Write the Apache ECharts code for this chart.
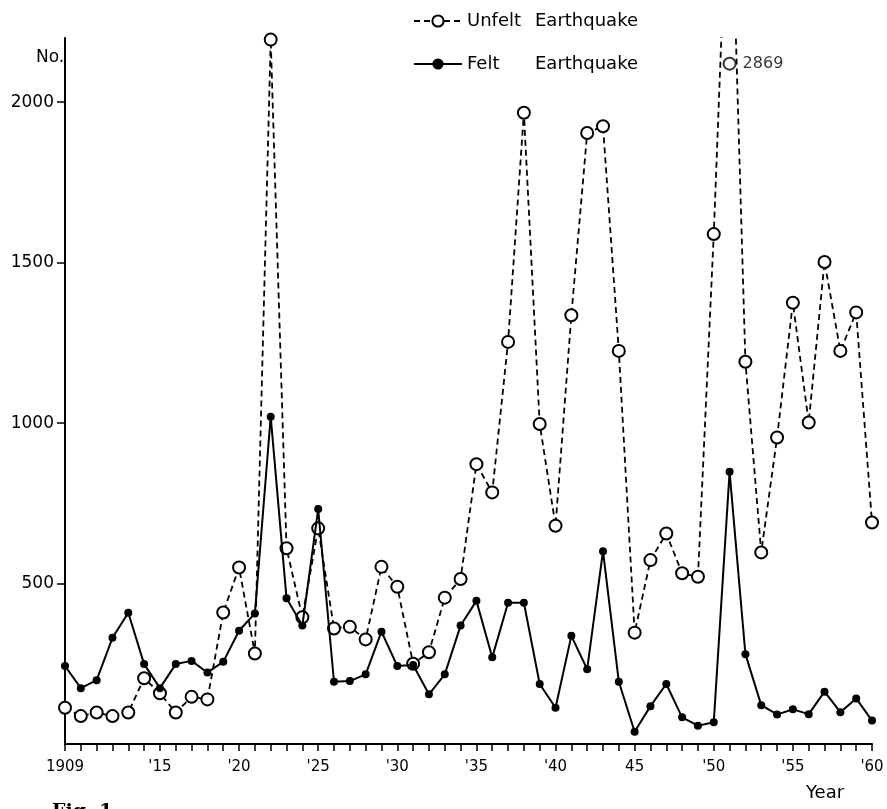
<!DOCTYPE html>
<html><head><meta charset="utf-8">
<script src="https://cdn.jsdelivr.net/npm/echarts@6/dist/echarts.min.js"></script>
<style>html,body{margin:0;padding:0;background:#fff}#c{width:887px;height:809px}</style>
</head><body><div id="c"></div>
<script>
const years = [1909,1910,1911,1912,1913,1914,1915,1916,1917,1918,1919,1920,1921,1922,1923,1924,1925,1926,1927,1928,1929,1930,1931,1932,1933,1934,1935,1936,1937,1938,1939,1940,1941,1942,1943,1944,1945,1946,1947,1948,1949,1950,1951,1952,1953,1954,1955,1956,1957,1958,1959,1960];
const unfelt = [113,87,98,87,98,205,158,98,147,139,410,550,282,2195,610,395,672,360,365,326,552,490,250,286,456,514,872,784,1253,1967,997,680,1336,1904,1925,1225,347,573,656,532,521,1589,2869,1191,597,955,1375,1002,1502,1225,1345,690];
const felt = [243,174,199,331,409,249,174,249,259,223,256,353,407,1020,454,369,732,194,196,217,350,243,246,155,217,369,446,270,440,440,187,113,337,233,601,194,38,118,187,83,57,68,848,280,121,92,108,93,163,99,142,73];
const xTickYears = [1909,1915,1920,1925,1930,1935,1940,1945,1950,1955,1960];
const xTickLabels = ['1909',"'15","'20","'25","'30","'35","'40",'45',"'50","'55","'60"];
const yTickValues = [500,1000,1500,2000];
const yTickLabels = ['500','1000','1500','2000'];
const offScaleYear = 1951;
const offScaleLabel = '2869';
const offScaleShownAt = 2120;
const seriesNames = ['Unfelt Earthquake','Felt Earthquake'];

const FONT = 'DejaVu Sans';
const chart = echarts.init(document.getElementById('c'), null, {renderer:'canvas'});
chart.setOption({
  animation:false,
  backgroundColor:'#fff',
  grid:{left:65,right:15,top:38,bottom:65},
  legend:{
    orient:'vertical', left:408, top:7, itemGap:25, itemWidth:48, itemHeight:14,
    data:seriesNames,
    formatter:function(n){const p=n.split(' ');return '{a|'+p[0]+'}{b|'+p[1]+'}';},
    textStyle:{color:'#000',fontFamily:FONT,fontSize:18,
      rich:{a:{width:68,fontFamily:FONT,fontSize:18,color:'#000'},b:{fontFamily:FONT,fontSize:18,color:'#000'}}}
  },
  xAxis:{
    type:'value', min:1909, max:1960,
    axisLine:{show:true,onZero:false,lineStyle:{color:'#000',width:2}},
    axisTick:{show:true,length:7,inside:false,customValues:years,lineStyle:{color:'#000',width:1.5}},
    axisLabel:{customValues:xTickYears,margin:16,color:'#000',fontFamily:FONT,fontSize:15,
      formatter:function(v){const i=xTickYears.indexOf(Math.round(v));return i>=0?xTickLabels[i]:'';}},
    splitLine:{show:false}
  },
  yAxis:{
    type:'value', min:0, max:2200,
    axisLine:{show:true,lineStyle:{color:'#000',width:2}},
    axisTick:{show:true,length:8,customValues:yTickValues,lineStyle:{color:'#000',width:1.5}},
    axisLabel:{customValues:yTickValues,margin:11,color:'#000',fontFamily:FONT,fontSize:17,
      formatter:function(v){const i=yTickValues.indexOf(Math.round(v));return i>=0?yTickLabels[i]:'';}},
    splitLine:{show:false}
  },
  series:[
    {name:seriesNames[0],type:'line',clip:true,
     data:years.map((y,i)=>[y,unfelt[i]]),
     symbol:'circle',symbolSize:12,
     itemStyle:{color:'#fff',borderColor:'#000',borderWidth:2},
     lineStyle:{color:'#000',width:1.8,type:[6,4]},z:2},
    {name:seriesNames[1],type:'line',clip:true,
     data:years.map((y,i)=>[y,felt[i]]),
     symbol:'circle',symbolSize:8,
     itemStyle:{color:'#000',borderColor:'#000',borderWidth:0},
     lineStyle:{color:'#000',width:2},z:3},
    {name:'offscale',type:'scatter',data:[[offScaleYear,offScaleShownAt]],
     symbol:'circle',symbolSize:12,
     itemStyle:{color:'#fff',borderColor:'#000',borderWidth:2},
     label:{show:true,position:'right',distance:6,formatter:offScaleLabel,color:'#000',fontFamily:FONT,fontSize:16},z:4}
  ],
  graphic:[
    {type:'text',left:36,top:49,style:{text:'No.',fill:'#000',font:'17px "DejaVu Sans"'}},
    {type:'text',left:806,top:784,style:{text:'Year',fill:'#000',font:'18px "DejaVu Sans"'}},
    {type:'text',left:52,top:803,style:{text:'Fig. 1.',fill:'#000',font:'bold 19px "DejaVu Serif"'}}
  ]
});
</script></body></html>
